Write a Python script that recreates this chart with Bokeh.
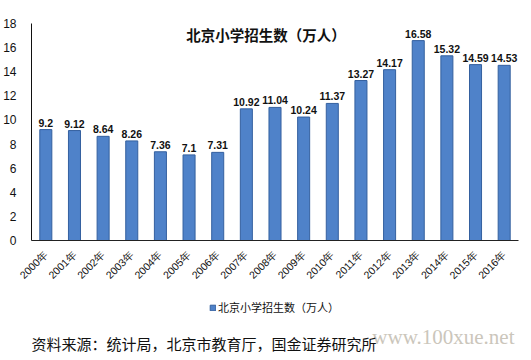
from bokeh.plotting import figure
from bokeh.layouts import column
from bokeh.models import (ColumnDataSource, FactorRange, Range1d, Label, Legend,
                          LegendItem, FixedTicker)
from bokeh.core.properties import value
from bokeh.embed import file_html
from bokeh.resources import INLINE

years = ["2000年", "2001年", "2002年", "2003年", "2004年", "2005年", "2006年",
         "2007年", "2008年", "2009年", "2010年", "2011年", "2012年", "2013年",
         "2014年", "2015年", "2016年"]
enrollment = [9.2, 9.12, 8.64, 8.26, 7.36, 7.1, 7.31, 10.92, 11.04, 10.24,
              11.37, 13.27, 14.17, 16.58, 15.32, 14.59, 14.53]
value_labels = ["9.2", "9.12", "8.64", "8.26", "7.36", "7.1", "7.31", "10.92",
                "11.04", "10.24", "11.37", "13.27", "14.17", "16.58", "15.32",
                "14.59", "14.53"]
y_ticks = [0, 2, 4, 6, 8, 10, 12, 14, 16, 18]
series_name = "北京小学招生数（万人）"
chart_title = "北京小学招生数（万人）"
source_note = "资料来源：统计局，北京市教育厅，国金证券研究所"
watermark_url = "www.100xue.net"

BAR_FILL = "#4f82c9"
BAR_LINE = "#34609f"

src = ColumnDataSource(dict(x=years, top=enrollment, lab=value_labels))

# ---------------- main chart ----------------
p = figure(x_range=FactorRange(*years), y_range=Range1d(0, 18),
           width=523, height=292, output_backend="svg", toolbar_location=None,
           min_border_left=25, min_border_right=5, min_border_top=23,
           min_border_bottom=52)
p.outline_line_color = None
p.grid.visible = False

bars = p.vbar(x="x", top="top", width=0.42, source=src,
              fill_color=BAR_FILL, line_color=BAR_LINE, line_width=1)

p.text(x="x", y="top", text="lab", source=src, y_offset=-3,
       text_align="center", text_baseline="bottom",
       text_font=value("Liberation Sans"), text_font_style="bold",
       text_font_size="10.5px", text_color="#111111")

p.yaxis.ticker = FixedTicker(ticks=y_ticks)
p.yaxis.major_tick_line_color = None
p.yaxis.minor_tick_line_color = None
p.yaxis.axis_line_color = "#111111"
p.yaxis.major_label_text_font = "Liberation Sans"
p.yaxis.major_label_text_font_size = "12px"
p.yaxis.major_label_text_color = "#111111"
p.yaxis.major_label_standoff = 9

p.xaxis.major_tick_line_color = None
p.xaxis.minor_tick_line_color = None
p.xaxis.axis_line_color = "#222222"
p.xaxis.major_label_orientation = 0.785
p.xaxis.major_label_text_font = "Liberation Sans"
p.xaxis.major_label_text_font_size = "10.5px"
p.xaxis.major_label_text_color = "#111111"
p.xaxis.major_label_standoff = 6

p.add_layout(Label(x=8.19, y=17.05, text=chart_title, text_align="center",
                   text_baseline="middle", text_font="Noto Sans CJK SC",
                   text_font_style="bold", text_font_size="14.5px",
                   text_color="#111111"))

# ---------------- footer: legend + source ----------------
f = figure(width=523, height=60, x_range=Range1d(0, 493), y_range=Range1d(0, 51),
           output_backend="svg", toolbar_location=None, min_border=0,
           x_axis_location=None, y_axis_location=None)
f.grid.visible = False
f.outline_line_color = None

key = f.vbar(x=[-50], top=[-50], width=1, fill_color=BAR_FILL, line_color=BAR_LINE)
legend = Legend(items=[LegendItem(label=series_name, renderers=[key])],
                orientation="horizontal", location=(178, 37),
                border_line_alpha=0, background_fill_alpha=0,
                label_text_font="Noto Sans CJK SC", label_text_color="#111111",
                label_text_font_size="11px", glyph_width=7, glyph_height=7,
                label_standoff=2, padding=0, margin=0)
f.add_layout(legend)

f.add_layout(Label(x=417, y=13, text=watermark_url, text_align="center",
                   text_baseline="middle", text_font="Liberation Serif",
                   text_font_size="21px", text_color="#cbc6bb"))

f.add_layout(Label(x=0, y=8, text=source_note, text_align="left",
                   text_baseline="middle", text_font="Noto Sans CJK SC",
                   text_font_size="15px", text_color="#111111"))

layout = column(p, f, spacing=0)
open("out.html", "w").write(file_html(layout, INLINE))
